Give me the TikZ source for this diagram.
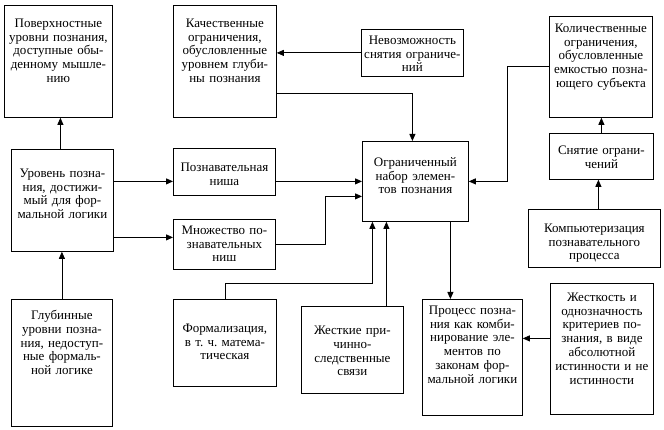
\documentclass[tikz,border=0pt]{standalone}
\usepackage{fontspec}
\setmainfont{Liberation Serif}
\usetikzlibrary{arrows.meta,calc}
\tikzset{
  every picture/.style={line width=0.8pt, font=\fontsize{13}{13.8}\selectfont},
  box/.style={draw, anchor=north west, inner xsep=-8pt, inner ysep=0pt, align=center},
  flow/.style={-{Triangle[length=7pt,width=6pt]}},
}
\begin{document}
\begin{tikzpicture}[x=1pt, y=-1pt]
  \useasboundingbox (0,0) rectangle (664,430);
  % left column
  \node[box, text width=124pt, text height=22pt, text depth=90pt] (surf) at (4,5)
    {Поверхностные\\уровни познания,\\доступные обы-\\денному мышле-\\нию};
  \node[box, text width=118pt, text height=28pt, text depth=74pt] (level) at (11,149)
    {Уровень позна-\\ния, достижи-\\мый для фор-\\мальной логики};
  \node[box, text width=117pt, text height=20pt, text depth=107pt] (deep) at (11,299)
    {Глубинные\\уровни позна-\\ния, недоступ-\\ные формаль-\\ной логике};
  % second column
  \node[box, text width=119pt, text height=22pt, text depth=90pt] (qual) at (173,5)
    {Качественные\\ограничения,\\обусловленные\\уровнем глуби-\\ны познания};
  \node[box, text width=118pt, text height=23pt, text depth=24pt] (niche) at (173,148)
    {Познавательная\\ниша};
  \node[box, text width=118pt, text height=15pt, text depth=35pt] (many) at (173,219)
    {Множество по-\\знавательных\\ниш};
  \node[box, text width=119pt, text height=33pt, text depth=54pt] (formal) at (173,299)
    {Формализация,\\в т.~ч.\ матема-\\тическая};
  \node[box, text width=118pt, text height=28pt, text depth=59pt] (rigid) at (301,306)
    {Жесткие при-\\чинно-\\следственные\\связи};
  % centre
  \node[box, text width=118pt, text height=15pt, text depth=32pt] (imposs) at (361,29)
    {Невозможность\\снятия ограниче-\\ний};
  \node[box, text width=122pt, text height=25pt, text depth=55pt] (limited) at (362,141)
    {Ограниченный\\набор элемен-\\тов познания};
  \node[box, text width=116pt, text height=15pt, text depth=101pt] (process) at (422,299)
    {Процесс позна-\\ния как комби-\\нирование эле-\\ментов по\\законам фор-\\мальной логики};
  % right column
  \node[box, text width=119pt, text height=16pt, text depth=85pt] (quant) at (549,16)
    {Количественные\\ограничения,\\обусловленные\\емкостью позна-\\ющего субъекта};
  \node[box, text width=120pt, text height=21pt, text depth=25pt] (remove) at (549,133)
    {Снятие ограни-\\чений};
  \node[box, text width=148pt, text height=23pt, text depth=35pt] (comp) at (528,209)
    {Компьютеризация\\познавательного\\процесса};
  \node[box, text width=119pt, text height=18pt, text depth=113pt] (strict) at (550,283)
    {Жесткость и\\однозначность\\критериев по-\\знания, в виде\\абсолютной\\истинности и не\\истинности};
  % connectors
  \draw[flow] ([xshift=-2pt]level.north) -- ([xshift=-2pt]level.north |- surf.south);
  \draw[flow] (deep.north) -- (deep.north |- level.south);
  \draw[flow] (level.east |- limited.west) -- (niche.west |- limited.west);
  \draw[flow] ([yshift=7pt]many.west -| level.east) -- ([yshift=7pt]many.west);
  \draw[flow] (niche.east |- limited.west) -- (limited.west);
  \draw[flow] (many.east) -- ++(50,0) |- ([yshift=-15pt]limited.west);
  \draw[flow] (imposs.west) -- (imposs.west -| qual.east);
  \draw[flow] ([yshift=-32pt]qual.east) -| ([xshift=-3pt]limited.north);
  \draw[flow] (quant.west) -- ++(-42,0) |- (limited.east);
  \draw[flow] (remove.north) -- (remove.north |- quant.south);
  \draw[flow] ([xshift=4pt]comp.north) -- ([xshift=4pt]comp.north |- remove.south);
  \draw[flow] (formal.north) -- ++(0,-16) -| ([xshift=-43pt]limited.south);
  \draw[flow] ([xshift=34pt]rigid.north) -- ([xshift=-29pt]limited.south);
  \draw[flow] ([xshift=35pt]limited.south) -- ([xshift=-22pt]process.north);
  \draw[flow] ([yshift=10.5pt]strict.west) -- ([yshift=10.5pt]strict.west -| process.east);
\end{tikzpicture}
\end{document}
